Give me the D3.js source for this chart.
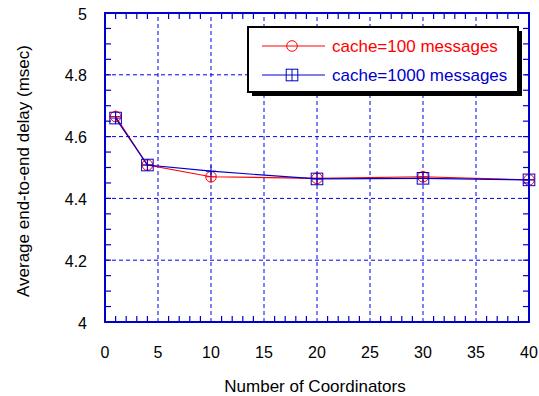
<!DOCTYPE html>
<html>
<head>
<meta charset="utf-8">
<script src="https://cdn.jsdelivr.net/npm/d3@7"></script>
<style>
  body { margin: 0; background: #fff; }
  text { font-family: "Liberation Sans", Arial, sans-serif; }
</style>
</head>
<body>
<script>
const width = 539;
const height = 396;
const margin = { top: 13, right: 10, bottom: 74, left: 105 };

const coordinators = [1, 4, 10, 20, 30, 40];
const cache100 = [4.665, 4.508, 4.47, 4.465, 4.47, 4.46];
const cache1000 = [4.66, 4.508, 4.488, 4.463, 4.465, 4.46];
const cache1000Marked = [true, true, false, true, true, true];
const xTicks = [0, 5, 10, 15, 20, 25, 30, 35, 40];
const yTicks = [4, 4.2, 4.4, 4.6, 4.8, 5];
const seriesNames = ['cache=100 messages', 'cache=1000 messages'];

function main() {
  const svg = d3.select('body').append('svg').attr('width', width).attr('height', height);
  const x = d3.scaleLinear().domain([0, 40]).range([margin.left, width - margin.right]);
  const y = d3.scaleLinear().domain([4, 5]).range([height - margin.bottom, margin.top]);

  drawGrid(svg, x, y);
  drawSeries(svg, x, y, cache100, '#ff0000', 'circle', coordinators.map(() => true));
  drawSeries(svg, x, y, cache1000, '#0000cc', 'square', cache1000Marked);
  drawFrame(svg, x, y);
  drawLegend(svg);
  drawLabels(svg, x, y);
}

function drawGrid(svg, x, y) {
  const g = svg.append('g').attr('stroke', '#0000ee').attr('stroke-dasharray', '4,3').attr('stroke-width', 1);
  g.selectAll('.vgrid')
    .data(xTicks.slice(1, -1))
    .enter()
    .append('line')
    .attr('x1', d => x(d)).attr('x2', d => x(d))
    .attr('y1', y(4)).attr('y2', y(5));
  g.selectAll('.hgrid')
    .data(yTicks.slice(1, -1))
    .enter()
    .append('line')
    .attr('x1', x(0)).attr('x2', x(40))
    .attr('y1', d => y(d)).attr('y2', d => y(d));
}

function drawFrame(svg, x, y) {
  const g = svg.append('g').attr('stroke', '#0000cc').attr('stroke-width', 1.2);
  const xMinor = d3.range(0, 41, 1);
  const yMinor = d3.range(4, 5.001, 0.05);
  const len = d => (xTicks.includes(d) ? 0 : 6);

  g.selectAll('.xb').data(xMinor).enter().append('line')
    .attr('x1', d => x(d)).attr('x2', d => x(d))
    .attr('y1', y(4)).attr('y2', d => y(4) - len(d));
  g.selectAll('.xt').data(xMinor).enter().append('line')
    .attr('x1', d => x(d)).attr('x2', d => x(d))
    .attr('y1', y(5)).attr('y2', d => y(5) + len(d));
  g.selectAll('.yl').data(yMinor).enter().append('line')
    .attr('x1', x(0)).attr('x2', x(0) + 6)
    .attr('y1', d => y(d)).attr('y2', d => y(d));
  g.selectAll('.yr').data(yMinor).enter().append('line')
    .attr('x1', x(40)).attr('x2', x(40) - 6)
    .attr('y1', d => y(d)).attr('y2', d => y(d));

  svg.append('rect')
    .attr('x', x(0)).attr('y', y(5))
    .attr('width', x(40) - x(0)).attr('height', y(4) - y(5))
    .attr('fill', 'none').attr('stroke', '#0000cc').attr('stroke-width', 2);
}

function drawMarker(g, cx, cy, shape, color) {
  if (shape === 'circle') {
    g.append('circle').attr('cx', cx).attr('cy', cy).attr('r', 5.3)
      .attr('fill', 'none').attr('stroke', color).attr('stroke-width', 1);
  } else {
    g.append('rect').attr('x', cx - 5.8).attr('y', cy - 5.8).attr('width', 11.6).attr('height', 11.6)
      .attr('fill', 'none').attr('stroke', color).attr('stroke-width', 1);
  }
}

function drawCross(g, cx, cy, color) {
  g.append('line').attr('x1', cx - 5).attr('x2', cx + 5).attr('y1', cy).attr('y2', cy)
    .attr('stroke', color).attr('stroke-width', 1);
  g.append('line').attr('x1', cx).attr('x2', cx).attr('y1', cy - 6).attr('y2', cy + 6)
    .attr('stroke', color).attr('stroke-width', 1);
}

function drawSeries(svg, x, y, values, color, shape, marked) {
  const points = coordinators.map((c, i) => [x(c), y(values[i])]);
  const g = svg.append('g');
  g.append('path')
    .attr('d', d3.line()(points))
    .attr('fill', 'none')
    .attr('stroke', color)
    .attr('stroke-width', 1.2);
  points.forEach((p, i) => {
    drawCross(g, p[0], p[1], color);
    if (marked[i]) drawMarker(g, p[0], p[1], shape, color);
  });
}

function drawLegend(svg) {
  const lx = 248, ly = 27, lw = 270, lh = 65;
  svg.append('rect').attr('x', lx + 4).attr('y', ly + 4).attr('width', lw).attr('height', lh).attr('fill', '#000');
  svg.append('rect').attr('x', lx).attr('y', ly).attr('width', lw).attr('height', lh)
    .attr('fill', '#fff').attr('stroke', '#000').attr('stroke-width', 2);

  const items = [
    { name: seriesNames[0], color: '#ff0000', shape: 'circle', cy: 46 },
    { name: seriesNames[1], color: '#0000cc', shape: 'square', cy: 75 }
  ];
  items.forEach(d => {
    const g = svg.append('g');
    g.append('line').attr('x1', 262).attr('x2', 325).attr('y1', d.cy).attr('y2', d.cy)
      .attr('stroke', d.color).attr('stroke-width', 1);
    if (d.shape === 'square') {
      g.append('line').attr('x1', 292).attr('x2', 292).attr('y1', d.cy - 6).attr('y2', d.cy + 6)
        .attr('stroke', d.color);
    }
    drawMarker(g, 292, d.cy, d.shape, d.color);
    g.append('text').attr('x', 332).attr('y', d.cy).attr('dy', '0.35em')
      .attr('font-size', '17px').attr('fill', d.color).text(d.name);
  });
}

function drawLabels(svg, x, y) {
  svg.selectAll('.xlab').data(xTicks).enter().append('text')
    .attr('x', d => x(d)).attr('y', 352).attr('dy', '0.35em')
    .attr('text-anchor', 'middle').attr('font-size', '16px').attr('fill', '#000')
    .text(d => d);
  svg.selectAll('.ylab').data(yTicks).enter().append('text')
    .attr('x', 87).attr('y', d => y(d) + 1).attr('dy', '0.35em')
    .attr('text-anchor', 'end').attr('font-size', '16px').attr('fill', '#000')
    .text(d => d);
  svg.append('text').attr('x', 315).attr('y', 391.5)
    .attr('text-anchor', 'middle').attr('font-size', '17px').attr('fill', '#000')
    .text('Number of Coordinators');
  svg.append('text').attr('transform', 'translate(23,171) rotate(-90)').attr('dy', '0.35em')
    .attr('text-anchor', 'middle').attr('font-size', '17px').attr('fill', '#000')
    .text('Average end-to-end delay (msec)');
}

main();
</script>
</body>
</html>
